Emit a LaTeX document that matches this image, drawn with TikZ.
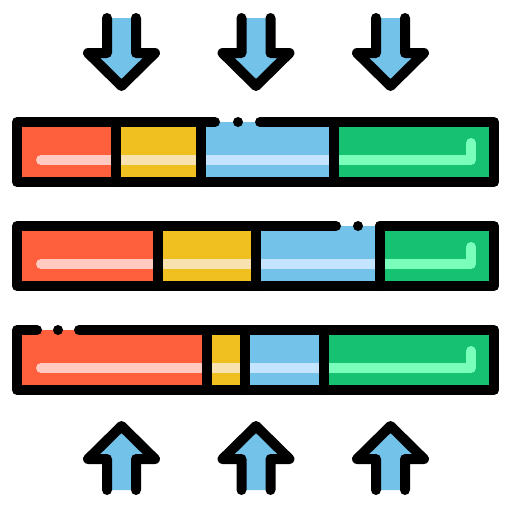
\documentclass[tikz,border=0pt]{standalone}
\definecolor{barred}{HTML}{FE5F3C}
\definecolor{baryellow}{HTML}{F0C020}
\definecolor{barblue}{HTML}{72C2E9}
\definecolor{bargreen}{HTML}{16C172}
\definecolor{shinered}{HTML}{FFCBC0}
\definecolor{shineyellow}{HTML}{F8E3B0}
\definecolor{shineblue}{HTML}{C5E4FF}
\definecolor{shinegreen}{HTML}{7AFFBA}
\begin{document}
\begin{tikzpicture}
[x=1pt,y=-1pt,
  outline/.style={line width=10pt,line cap=round,line join=round},%
  arrowdecorate/.style={outline,fill=barblue},%
  shine/.style={line width=10pt}]
\useasboundingbox (0,0) rectangle (512,512);
%% arrows pointing down
\foreach \ax in {121.5,256,390.5} {
  \filldraw[arrowdecorate] (\ax-14.5,18) -- (\ax-14.5,53) -- (\ax-33.5,53)
    -- (\ax,86) -- (\ax+33.5,53) -- (\ax+14.5,53) -- (\ax+14.5,18);
}
%% arrows pointing up
\foreach \ax in {121.5,256,390.5} {
  \filldraw[arrowdecorate] (\ax-14.5,490) -- (\ax-14.5,459) -- (\ax-33.5,459)
    -- (\ax,426) -- (\ax+33.5,459) -- (\ax+14.5,459) -- (\ax+14.5,490);
}
%% bars: top, dividers, gap in the top edge
\foreach \y/\da/\db/\dc/\gl/\gd/\gr in {122/116/201/334/215/238/260,
  226/158/256/380/336/358/380, 330/207/245/324/37/58/79} {
  \fill[barred] (17,\y) rectangle (\da,\y+60);
  \fill[baryellow] (\da,\y) rectangle (\db,\y+60);
  \fill[barblue] (\db,\y) rectangle (\dc,\y+60);
  \fill[bargreen] (\dc,\y) rectangle (494,\y+60);
  \draw[shine,shinered,line cap=round] (41,\y+38) -- (\da,\y+38);
  \draw[shine,shineyellow] (\da,\y+38) -- (\db,\y+38);
  \draw[shine,shineblue] (\db,\y+38) -- (\dc,\y+38);
  \draw[shine,shinegreen,line cap=round,line join=round]
    (\dc,\y+38) -- (471,\y+38) -- (471,\y+21);
  \foreach \d in {\da,\db,\dc} {
    \draw[outline] (\d,\y) -- (\d,\y+60);
  }
  \draw[outline] (\gl,\y) -- (17,\y) -- (17,\y+60) -- (494,\y+60)
    -- (494,\y) -- (\gr,\y);
  \fill (\gd,\y) circle (5pt);
}
\end{tikzpicture}
\end{document}
